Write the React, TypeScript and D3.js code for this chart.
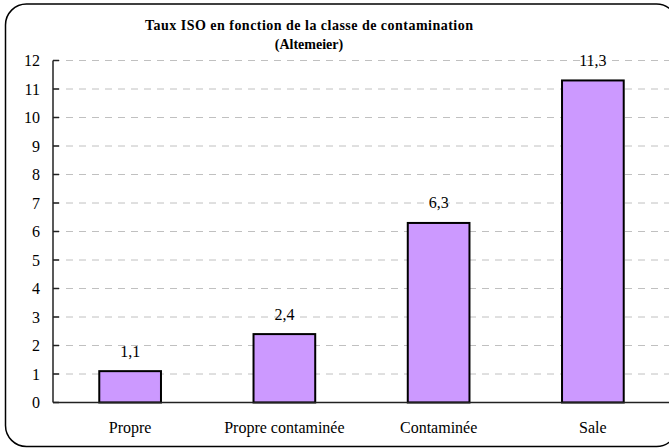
import React from "react";
import * as d3 from "d3";

const categories = ["Propre", "Propre contaminée", "Contaminée", "Sale"];
const values = [1.1, 2.4, 6.3, 11.3];
const valueLabels = ["1,1", "2,4", "6,3", "11,3"];
const yTicks = [0, 1, 2, 3, 4, 5, 6, 7, 8, 9, 10, 11, 12];
const titleLines = ["Taux ISO en fonction de la classe de contamination", "(Altemeier)"];

const W = 669;
const H = 448;
const FONT = "'Liberation Serif', 'Times New Roman', serif";

export default function App() {
  const x = d3.scaleBand<string>().domain(categories).range([53, 670]).paddingInner(0.6).paddingOuter(0.3);
  const y = d3.scaleLinear().domain([0, 12]).range([402.5, 60.5]);
  const left = 53;
  const right = 670;

  return (
    <svg width={W} height={H} style={{ position: "absolute", left: 0, top: 0, background: "#fff" }}>
      <rect x={0} y={0} width={W} height={H} fill="#fff" />
      <rect x={5.5} y={4} width={672} height={442.5} rx={21} ry={21} fill="none" stroke="#000" strokeWidth={1.5} />
      {titleLines.map((t, i) => (
        <text
          key={t}
          x={309}
          y={30 + i * 19}
          textAnchor="middle"
          fontFamily={FONT}
          fontWeight="bold"
          fontSize={14}
          fill="#000"
          {...(i === 0 ? { textLength: 328, lengthAdjust: "spacing" } : {})}
        >
          {t}
        </text>
      ))}
      {yTicks.filter((t) => t > 0).map((t) => (
        <line key={"g" + t} x1={left} x2={right} y1={y(t)} y2={y(t)} stroke="#c0c0c0" strokeWidth={1} strokeDasharray="7,6" />
      ))}
      {categories.map((c, i) => {
        const bx = x(c)!;
        const by = y(values[i]);
        return (
          <g key={c}>
            <rect x={bx} y={by} width={x.bandwidth()} height={y(0) - by} fill="#cc99ff" stroke="#000" strokeWidth={2} />
            <text x={bx + x.bandwidth() / 2} y={by - 14.5} textAnchor="middle" fontFamily={FONT} fontSize={16} fill="#000">
              {valueLabels[i]}
            </text>
            <text x={bx + x.bandwidth() / 2} y={433} textAnchor="middle" fontFamily={FONT} fontSize={16} fill="#000">
              {c}
            </text>
          </g>
        );
      })}
      <line x1={left} x2={left} y1={y(12)} y2={y(0)} stroke="#222" strokeWidth={1.5} />
      <line x1={left} x2={right} y1={y(0)} y2={y(0)} stroke="#222" strokeWidth={1.5} />
      {yTicks.map((t) => (
        <g key={"t" + t}>
          <line x1={left} x2={left + 6} y1={y(t)} y2={y(t)} stroke="#222" strokeWidth={1.5} />
          <text x={40} y={y(t)} dy="0.35em" textAnchor="end" fontFamily={FONT} fontSize={16} fill="#000">
            {t}
          </text>
        </g>
      ))}
    </svg>
  );
}
